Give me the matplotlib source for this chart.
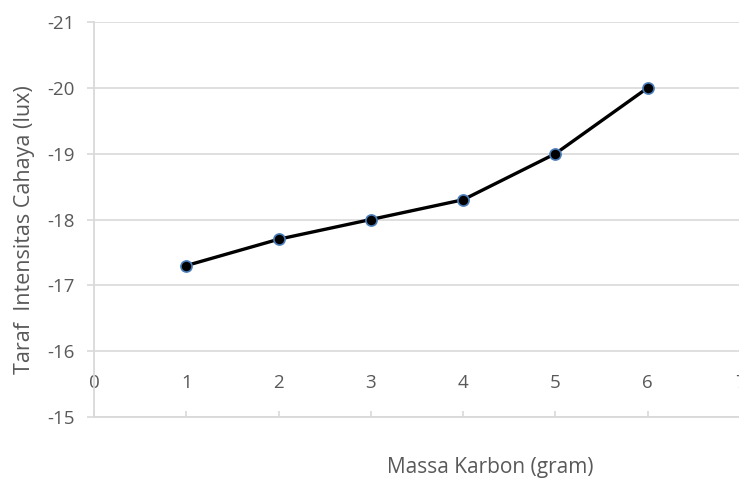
import matplotlib
matplotlib.use("Agg")
import matplotlib.pyplot as plt

massa = [1, 2, 3, 4, 5, 6]
intensitas = [-17.3, -17.7, -18.0, -18.3, -19.0, -20.0]
yticks = [-21, -20, -19, -18, -17, -16, -15]
xticks = [0, 1, 2, 3, 4, 5, 6, 7]

grey = "#595959"
light = "#d9d9d9"

plt.rcParams['font.family'] = ['Open Sans', 'DejaVu Sans']

fig = plt.figure(figsize=(7.39, 4.79), dpi=100)
ax = fig.add_axes([94/739, 1 - 417/479, 646/739, 395/479])

ax.plot(massa, intensitas, color="black", lw=2.4, zorder=3,
        marker="o", markersize=8, markerfacecolor="black",
        markeredgecolor="#4a7ebb", markeredgewidth=1.2)

ax.set_xlim(0, 7)
ax.set_ylim(-15, -21)
ax.set_yticks(yticks)
ax.set_yticklabels([str(v) for v in yticks])
ax.set_xticks(xticks)
ax.grid(axis="y", color=light, lw=1.2)
ax.set_axisbelow(True)

for s in ["top", "right"]:
    ax.spines[s].set_visible(False)
for s in ["left", "bottom"]:
    ax.spines[s].set_color(light)
    ax.spines[s].set_linewidth(1.3)

ax.tick_params(axis="y", colors=light, labelcolor=grey, labelsize=13.5,
               direction="out", length=5, width=1.2, pad=9)
ax.tick_params(axis="x", colors=light, labelcolor=grey, labelsize=13.5,
               direction="in", length=4, width=1.2, pad=-31)

ax.set_xlabel("Massa Karbon (gram)", color=grey, fontsize=15, va="center")
ax.xaxis.set_label_coords(0.613, -0.128)
ax.set_ylabel("Taraf  Intensitas Cahaya (lux)", color=grey, fontsize=15.5,
              va="center")
ax.yaxis.set_label_coords(-0.108, 0.475)

fig.savefig("out.png", dpi=100)
